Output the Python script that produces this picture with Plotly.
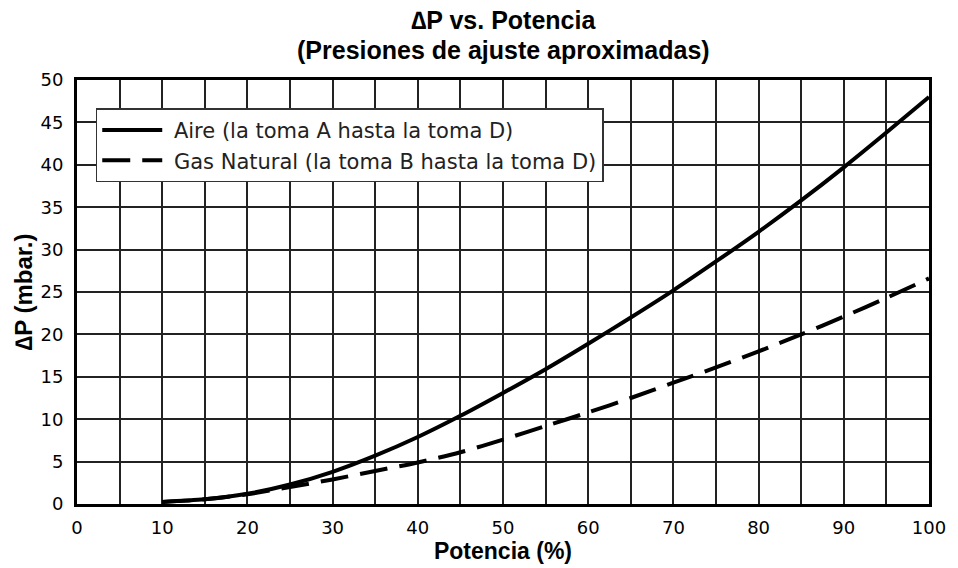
import plotly.graph_objects as go

potencia = [10, 15, 20, 25, 30, 35, 40, 45, 50, 55, 60, 65, 70, 75, 80, 85, 90, 95, 100]
aire = [0.25, 0.55, 1.2, 2.3, 3.8, 5.7, 7.9, 10.4, 13.1, 15.9, 18.9, 22.0, 25.2, 28.6, 32.1, 35.8, 39.7, 43.8, 48.0]
gas = [0.25, 0.55, 1.15, 2.0, 2.9, 3.9, 4.9, 6.1, 7.6, 9.2, 10.8, 12.5, 14.3, 16.1, 18.0, 20.0, 22.1, 24.3, 26.6]

x_ticks = list(range(0, 101, 10))
title_lines = ["∆P vs. Potencia", "(Presiones de ajuste aproximadas)"]
name_aire = "Aire (la toma A hasta la toma D)"
name_gas = "Gas Natural (la toma B hasta la toma D)"

bold_family = "Liberation Sans, Arial, sans-serif"
text_family = "DejaVu Sans, sans-serif"

fig = go.Figure()
fig.add_trace(go.Scatter(x=potencia, y=aire, mode="lines", name="\u00a0" + name_aire,
                         line=dict(color="black", width=4, shape="spline", smoothing=0.8)))
fig.add_trace(go.Scatter(x=potencia, y=gas, mode="lines", name="\u00a0" + name_gas,
                         line=dict(color="black", width=4, dash="28px,12px",
                                   shape="spline", smoothing=0.8)))

# title as two annotations for precise placement
for txt, ypos in zip(title_lines, [1.142, 1.07]):
    fig.add_annotation(text="<b>" + txt + "</b>", x=0.5, y=ypos, xref="paper", yref="paper",
                       xanchor="center", yanchor="middle", showarrow=False,
                       font=dict(size=25, family=bold_family, color="black"))

fig.update_layout(
    width=958, height=568,
    paper_bgcolor="white", plot_bgcolor="white",
    margin=dict(l=77, r=18, t=80, b=58),
    font=dict(family=text_family, size=18, color="black"),
    showlegend=True,
    legend=dict(x=0.022, y=0.933, xanchor="left", yanchor="top",
                bgcolor="white", bordercolor="#333", borderwidth=1.5,
                itemwidth=60,
                font=dict(size=21, family=text_family, color="#222"), tracegroupgap=0),
    xaxis=dict(range=[0, 100], tickvals=x_ticks,
               showgrid=True, gridcolor="#222", gridwidth=1.5, zeroline=False,
               minor=dict(dtick=5, tick0=0, showgrid=True, gridcolor="#222", gridwidth=1.5),
               showline=True, linecolor="black", linewidth=3, mirror=True,
               ticks="", ticklabelstandoff=5, tickfont=dict(size=18, family=text_family),
               title=dict(text="<b>Potencia (%)</b>",
                          font=dict(size=23, family=bold_family), standoff=2)),
    yaxis=dict(range=[0, 50], dtick=5, tick0=0,
               showgrid=True, gridcolor="#222", gridwidth=1.5, zeroline=False,
               showline=True, linecolor="black", linewidth=3, mirror=True,
               ticks="", ticklabelstandoff=7, tickfont=dict(size=18, family=text_family),
               title=dict(text="<b>∆P (mbar.)</b>",
                          font=dict(size=24, family=bold_family), standoff=2)),
)

fig.write_html("out.html", config={"displayModeBar": False},
               post_script="document.body.style.margin='0px';document.body.style.overflow='hidden';")
